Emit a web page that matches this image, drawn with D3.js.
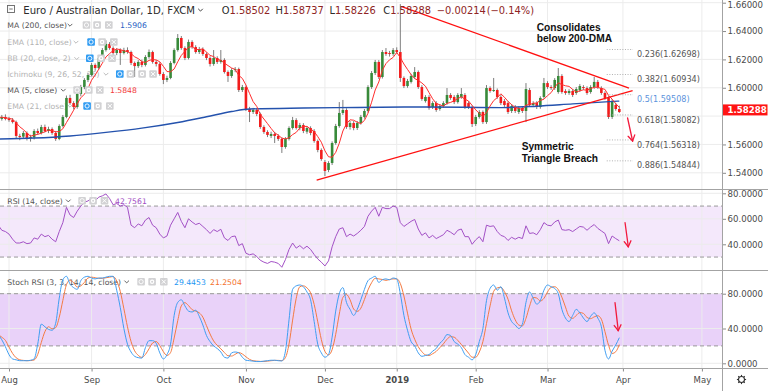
<!DOCTYPE html>
<html><head><meta charset="utf-8">
<script src="https://cdn.jsdelivr.net/npm/d3@7"></script>
<style>body{margin:0;background:#fff;overflow:hidden}svg{display:block;font-family:"DejaVu Sans",sans-serif}</style>
</head><body><svg id="c" width="768" height="391"></svg>
<script>
// ---------- DATA ----------
const monthTicks = [3,26,46,69,91,111,133,153,174,196];
const monthLabels = ["Aug","Sep","Oct","Nov","Dec","2019","Feb","Mar","Apr","May"];
const priceTicks = [1.54,1.56,1.58,1.60,1.62,1.64,1.66];
const priceLabelTicks = [1.54,1.56,1.60,1.62,1.64,1.66];
const rsiTicks = [40,60,80];
const stochTicks = [0,40,80];
// daily bars [open, high, low, close]
const ohlc = [
[1.5787,1.5805,1.5772,1.5790],[1.5780,1.5808,1.5768,1.5794],[1.5794,1.5812,1.5770,1.5780],[1.5780,1.5795,1.5760,1.5772],
[1.5772,1.5786,1.5748,1.5758],[1.5758,1.5768,1.5645,1.5660],[1.5660,1.5675,1.5630,1.5653],[1.5655,1.5695,1.5640,1.5681],
[1.5681,1.5692,1.5628,1.5646],[1.5646,1.5668,1.5620,1.5653],[1.5650,1.5708,1.5635,1.5695],[1.5695,1.5712,1.5668,1.5681],
[1.5681,1.5738,1.5670,1.5723],[1.5723,1.5740,1.5685,1.5695],[1.5695,1.5725,1.5680,1.5709],[1.5709,1.5720,1.5668,1.5681],
[1.5681,1.5695,1.5625,1.5639],[1.5639,1.5742,1.5630,1.5730],[1.5730,1.5808,1.5720,1.5794],[1.5794,1.5945,1.5785,1.5928],
[1.5928,1.5950,1.5880,1.5892],[1.5892,1.5905,1.5848,1.5864],[1.5864,1.5968,1.5852,1.5956],[1.5956,1.6020,1.5940,1.6005],
[1.6005,1.6068,1.5990,1.6055],[1.6055,1.6105,1.6040,1.6090],[1.6090,1.6175,1.6080,1.6161],[1.6161,1.6172,1.6120,1.6139],
[1.6139,1.6222,1.6128,1.6210],[1.6210,1.6280,1.6198,1.6266],[1.6266,1.6335,1.6255,1.6309],[1.6309,1.6322,1.6268,1.6280],
[1.6280,1.6292,1.6232,1.6245],[1.6245,1.6280,1.6230,1.6266],[1.6266,1.6278,1.6161,1.6245],[1.6245,1.6282,1.6235,1.6266],
[1.6266,1.6285,1.6240,1.6252],[1.6252,1.6262,1.6160,1.6175],[1.6175,1.6185,1.6076,1.6153],[1.6153,1.6195,1.6140,1.6182],
[1.6182,1.6198,1.6145,1.6161],[1.6161,1.6230,1.6150,1.6217],[1.6217,1.6270,1.6205,1.6252],[1.6252,1.6262,1.6170,1.6182],
[1.6182,1.6195,1.6150,1.6168],[1.6168,1.6180,1.6085,1.6097],[1.6097,1.6110,1.6026,1.6055],[1.6055,1.6085,1.6040,1.6069],
[1.6069,1.6188,1.6060,1.6175],[1.6175,1.6278,1.6165,1.6266],[1.6266,1.6379,1.6255,1.6351],[1.6351,1.6365,1.6268,1.6280],
[1.6280,1.6292,1.6195,1.6210],[1.6210,1.6340,1.6200,1.6323],[1.6323,1.6335,1.6275,1.6287],[1.6287,1.6300,1.6240,1.6252],
[1.6252,1.6288,1.6238,1.6273],[1.6273,1.6285,1.6225,1.6238],[1.6238,1.6250,1.6195,1.6210],[1.6210,1.6222,1.6150,1.6168],
[1.6168,1.6266,1.6155,1.6210],[1.6210,1.6222,1.6168,1.6182],[1.6182,1.6266,1.6170,1.6196],[1.6196,1.6208,1.6100,1.6111],
[1.6111,1.6122,1.6041,1.6083],[1.6083,1.6138,1.6070,1.6125],[1.6125,1.6146,1.6110,1.6132],[1.6132,1.6142,1.5970,1.5984],
[1.5984,1.6020,1.5970,1.6005],[1.6005,1.6015,1.5836,1.5850],[1.5850,1.5865,1.5758,1.5829],[1.5829,1.5858,1.5815,1.5843],
[1.5843,1.5855,1.5800,1.5815],[1.5815,1.5825,1.5710,1.5723],[1.5723,1.5735,1.5675,1.5688],[1.5688,1.5700,1.5652,1.5667],
[1.5660,1.5690,1.5645,1.5674],[1.5674,1.5688,1.5610,1.5660],[1.5660,1.5672,1.5625,1.5639],[1.5639,1.5650,1.5540,1.5582],
[1.5582,1.5652,1.5570,1.5639],[1.5639,1.5728,1.5628,1.5716],[1.5716,1.5794,1.5705,1.5772],[1.5772,1.5785,1.5705,1.5716],
[1.5716,1.5752,1.5700,1.5737],[1.5737,1.5750,1.5680,1.5695],[1.5690,1.5730,1.5675,1.5716],[1.5716,1.5728,1.5665,1.5681],
[1.5695,1.5708,1.5612,1.5624],[1.5624,1.5635,1.5545,1.5561],[1.5561,1.5572,1.5485,1.5497],[1.5476,1.5490,1.5377,1.5413],
[1.5420,1.5482,1.5405,1.5469],[1.5469,1.5622,1.5455,1.5610],[1.5610,1.5745,1.5598,1.5730],[1.5730,1.5899,1.5718,1.5822],
[1.5822,1.5914,1.5808,1.5843],[1.5843,1.5855,1.5710,1.5723],[1.5723,1.5765,1.5705,1.5751],[1.5751,1.5765,1.5700,1.5716],
[1.5716,1.5765,1.5702,1.5751],[1.5751,1.5808,1.5740,1.5794],[1.5794,1.5850,1.5782,1.5836],[1.5836,1.6018,1.5825,1.6005],
[1.6005,1.6118,1.5992,1.6104],[1.6104,1.6196,1.6090,1.6182],[1.6182,1.6195,1.6062,1.6076],[1.6076,1.6266,1.6065,1.6252],
[1.6252,1.6280,1.6225,1.6238],[1.6245,1.6260,1.6220,1.6238],[1.6238,1.6280,1.6225,1.6266],[1.6266,1.6285,1.6240,1.6252],
[1.6252,1.6590,1.6041,1.6069],[1.6069,1.6080,1.5998,1.6012],[1.6012,1.6062,1.6000,1.6048],[1.6041,1.6098,1.6030,1.6083],
[1.6076,1.6146,1.6065,1.6111],[1.6111,1.6122,1.5992,1.6005],[1.6005,1.6018,1.5908,1.5921],[1.5906,1.5948,1.5895,1.5935],
[1.5935,1.5948,1.5845,1.5857],[1.5864,1.5905,1.5850,1.5892],[1.5892,1.5905,1.5830,1.5843],[1.5850,1.5885,1.5838,1.5871],
[1.5871,1.5905,1.5858,1.5892],[1.5892,1.5998,1.5880,1.5949],[1.5949,1.5962,1.5915,1.5928],[1.5935,1.5948,1.5885,1.5899],
[1.5899,1.5962,1.5888,1.5949],[1.5935,1.5998,1.5922,1.5956],[1.5949,1.5962,1.5850,1.5864],[1.5892,1.5905,1.5850,1.5864],
[1.5864,1.5875,1.5723,1.5744],[1.5744,1.5808,1.5730,1.5794],[1.5794,1.5842,1.5782,1.5829],[1.5829,1.5840,1.5745,1.5758],
[1.5758,1.6019,1.5745,1.5998],[1.5998,1.6010,1.5965,1.5977],[1.5977,1.6069,1.5970,1.5984],[1.5984,1.5995,1.5922,1.5935],
[1.5935,1.5948,1.5878,1.5892],[1.5906,1.5920,1.5865,1.5878],[1.5892,1.5905,1.5815,1.5829],[1.5836,1.5885,1.5822,1.5871],
[1.5864,1.5878,1.5822,1.5836],[1.5829,1.5870,1.5815,1.5857],[1.5857,1.5870,1.5822,1.5836],[1.5836,1.6033,1.5758,1.5991],
[1.5984,1.5998,1.5865,1.5878],[1.5878,1.5905,1.5865,1.5892],[1.5892,1.5905,1.5850,1.5864],[1.5864,1.5940,1.5852,1.5928],
[1.5935,1.6069,1.5922,1.6033],[1.6033,1.6046,1.5992,1.6005],[1.6005,1.6018,1.5985,1.5998],[1.5998,1.6068,1.5985,1.6055],
[1.5970,1.6139,1.5958,1.6083],[1.6083,1.6096,1.5958,1.5970],[1.5977,1.5990,1.5950,1.5963],[1.5963,1.5990,1.5950,1.5977],
[1.5977,1.5990,1.5935,1.5949],[1.5963,1.6005,1.5950,1.5991],[1.5984,1.6026,1.5970,1.6012],[1.6005,1.6018,1.5985,1.5998],
[1.5998,1.6010,1.5950,1.5963],[1.5970,1.6018,1.5958,1.6005],[1.6005,1.6076,1.5992,1.6041],[1.6041,1.6055,1.5992,1.6005],
[1.5998,1.6010,1.5950,1.5963],[1.5963,1.5975,1.5915,1.5928],[1.5928,1.5940,1.5780,1.5794],[1.5794,1.5920,1.5780,1.5906],
[1.5878,1.5892,1.5838,1.5850],[1.58502,1.58737,1.58226,1.58288]
];
// MA(200): [bar index, value]
const ma200 = [[0,1.5638],[10,1.5645],[20,1.5660],[30,1.5685],[40,1.5715],[50,1.5755],[58,1.5795],[65,1.5832],[70,1.5850],
[85,1.5857],[100,1.5861],[115,1.5864],[130,1.5862],[140,1.5860],[150,1.5870],[160,1.5886],[173,1.5906]];
const rsi = [55,51,50,48,44,41,41,42,40.5,41,45,44,48,46,47,44,42,50,57,69,63,61,66,70,73,74,76,74,77,78,
79.5,76,71,72,70,71,69,55,53,56,54.5,59,61,55,53,48,45,46.5,55,60,65,58,53,60,57.5,55.5,56.5,54,51.5,48.5,
51.5,50,51.8,45,43,46,46.5,39,40.5,33,31.8,32.5,30.5,27.5,26,25,26.5,26,25,22,28,36,41,37,39,36.5,38.5,36,
32,28.5,26,23,27,38,46,52,53,46,48,46.5,48.5,51,54,62,66,69,62,69,68,68,70,69,57,54,56,58,59.5,52,47,49,45,
47,44.5,46,47.5,51,49.5,47.5,51,52,46,46,40,43.5,46,42,55,54,54.5,50,47,46,43,45.5,44,45.5,44.5,54.5,48.5,
49,47.5,51.5,57,55,54.5,57.5,59,51.5,51,51.5,50,52,54,53.5,51,53.5,55.5,52.5,50.5,48.5,40.5,46.5,44.5,42.7561];
const stochK = [33,27,19,10,5,4,3,3,3,3.5,5,22,45,42,39,38,46,75,96,100,91,87,85,95,99,100,98,97,98,98,
99,100,100,84,64,40,22,13,8,6.5,6,18,26,26,23,12,5,10,22,55,70,73,66,60,59,61,54,44,32,25,
20,17,13,7,6,12,13,12,7,3.5,3,2.5,2,2,2.5,3,3.5,3.5,3,2.7,14,50,85,89,90,88,82,73,48,22,
12,7,10,30,60,80,87,70,62,55,62,73,85,95,98,100,93,96,97,96,98,97,80,55,38,25,20,12,8,9,
10,14,17,23,27,33,32,25,22,18,10,7,4,10,25,40,72,86,90,84,88,75,58,48,44,40,45,70,82,75,
68,72,84,90,88,86,80,62,52,48,55,62,58,52,48,54,58,52,42,15,5,14,21,29.4453];
const stochDLast = "21.2504";
const ma200Last = "1.5906", ma5Last = "1.5848";
const fibLevels = [["0.236",1.62698],["0.382",1.60934],["0.5",1.59508],["0.618",1.58082],["0.764",1.56318],["0.886",1.54844]];
const triangle = [[[112.4,1.6572],[175.7,1.5998]],[[88.7,1.5349],[176.7,1.5979]]];
const header = {o:"1.58502",h:"1.58737",l:"1.58226",c:"1.58288",chg:"\u22120.00214",pct:"(\u22120.14%)"};

// ---------- DERIVED INDICATORS ----------
const closes = ohlc.map(d=>d[3]);
const ma5 = closes.map((c,i)=>d3.mean(closes.slice(Math.max(0,i-4),i+1)));
const stochD = stochK.map((k,i)=>d3.mean(stochK.slice(Math.max(0,i-2),i+1)));

// ---------- SCALES ----------
const svg = d3.select("#c");
const PW = 722, W = 768;
const x = d3.scaleLinear().domain([0.493, 201.6]).range([0, PW]);
const y = d3.scaleLinear().domain([1.54, 1.66]).range([172.8, 2.7]);
const yR = d3.scaleLinear().domain([40, 80]).range([244.3, 193.3]);
const yS = d3.scaleLinear().domain([0, 80]).range([363.3, 293.7]);

const defs = svg.append("defs");
function clip(id,y0,h){defs.append("clipPath").attr("id",id).append("rect").attr("x",0).attr("y",y0).attr("width",PW).attr("height",h);}
clip("cm",0,189); clip("cr",190,80); clip("cs",271,97);

const GRID="#ececec", SEP="#a3a3a3", AX="#4a4a4a";

// bands
svg.append("rect").attr("x",0).attr("width",PW).attr("y",yR(70)).attr("height",yR(30)-yR(70)).attr("fill","#f4e8fb");
svg.append("rect").attr("x",0).attr("width",PW).attr("y",yS(80)).attr("height",yS(20)-yS(80)).attr("fill","#e9d2f9");

// grid
const grid = svg.append("g").attr("stroke",GRID).attr("stroke-width",1);
monthTicks.forEach(t=>{grid.append("line").attr("x1",x(t)).attr("x2",x(t)).attr("y1",0).attr("y2",368);});
priceTicks.forEach(p=>grid.append("line").attr("x1",0).attr("x2",PW).attr("y1",y(p)).attr("y2",y(p)));
rsiTicks.forEach(v=>grid.append("line").attr("x1",0).attr("x2",PW).attr("y1",yR(v)).attr("y2",yR(v)));
stochTicks.forEach(v=>grid.append("line").attr("x1",0).attr("x2",PW).attr("y1",yS(v)).attr("y2",yS(v)));

// dashed band borders
const dash = svg.append("g").attr("stroke","#8f8f8f").attr("stroke-dasharray","4,3").attr("stroke-width",0.9);
[70,30].forEach(v=>dash.append("line").attr("x1",0).attr("x2",PW).attr("y1",yR(v)).attr("y2",yR(v)));
[80,20].forEach(v=>dash.append("line").attr("x1",0).attr("x2",PW).attr("y1",yS(v)).attr("y2",yS(v)));

// ---------- LEGENDS (text under marks) ----------
const legendRows = [
 {t:"MA (200, close)",y:25,chev:70,icons:[82.7,93.3,105],hidden:false},
 {t:"EMA (110, close)",y:42,chev:76,icons:[87.3,98.3,110],hidden:true},
 {t:"BB (20, close, 2)",y:58.3,chev:76.7,icons:[86,97.3,108.3],hidden:true},
 {t:"Ichimoku (9, 26, 52, 26)",y:74,chev:106,icons:[116,126.7,138.3,149.3],hidden:true},
 {t:"MA (5, close)",y:90,chev:63.3,icons:[73.3,85,96],hidden:false},
 {t:"EMA (21, close)",y:106,chev:70,icons:[83.3,94,106],hidden:true},
 {t:"RSI (14, close)",y:200.7,chev:68.3,icons:[78.3,89.3,100.7],hidden:false},
 {t:"Stoch RSI (3, 3, 14, 14, close)",y:281.7,chev:126.7,icons:[137.3,148.3,160],hidden:false}
];
const legT = svg.append("g").attr("font-size","7.7px");
legendRows.forEach(r=>{
  const col = r.hidden ? "#b3b3b3" : "#555";
  legT.append("text").attr("x",7.3).attr("y",r.y+2.8).attr("fill",col).text(r.t);
  legT.append("polyline").attr("points",`${r.chev-2.3},${r.y-1.1} ${r.chev},${r.y+1.2} ${r.chev+2.3},${r.y-1.1}`)
    .attr("fill","none").attr("stroke",col).attr("stroke-width",0.9);
});

// ---------- PRICE PANE ----------
const gM = svg.append("g").attr("clip-path","url(#cm)");
gM.selectAll("line.wick").data(ohlc).join("line").attr("class","wick")
  .attr("x1",(d,i)=>x(i)).attr("x2",(d,i)=>x(i)).attr("y1",d=>y(d[1])).attr("y2",d=>y(d[2]))
  .attr("stroke","#6e6e6e").attr("stroke-width",0.9);
gM.selectAll("rect.body").data(ohlc).join("rect").attr("class","body")
  .attr("x",(d,i)=>x(i)-1.3).attr("width",2.6)
  .attr("y",d=>y(Math.max(d[0],d[3])))
  .attr("height",d=>Math.max(1,Math.abs(y(d[0])-y(d[3]))))
  .attr("fill",d=>d[3]>=d[0]?"#388a3a":"#f21c1c");
gM.append("path").datum(ma200).attr("fill","none").attr("stroke","#2452ad").attr("stroke-width",1.4)
  .attr("d",d3.line().curve(d3.curveMonotoneX).x(d=>x(d[0])).y(d=>y(d[1])));
gM.append("path").datum(ma5).attr("fill","none").attr("stroke","#ff2d2d").attr("stroke-width",1)
  .attr("d",d3.line().x((d,i)=>x(i)).y(d=>y(d)));
triangle.forEach(seg=>gM.append("line").attr("x1",x(seg[0][0])).attr("y1",y(seg[0][1])).attr("x2",x(seg[1][0])).attr("y2",y(seg[1][1]))
  .attr("stroke","#ff1010").attr("stroke-width",1.3));

// fib levels
const fibG = svg.append("g");
fibLevels.forEach(([lv,p])=>{
  fibG.append("line").attr("x1",x(169.5)).attr("x2",x(176.8)).attr("y1",y(p)).attr("y2",y(p))
    .attr("stroke","#a8a8a8").attr("stroke-dasharray","1,1.6").attr("stroke-width",0.9);
  fibG.append("text").attr("x",x(176.8)+4).attr("y",y(p)+7.6).attr("font-size","8.1px")
    .attr("fill",lv==="0.5"?"#5b93dc":"#555").text(`${lv}(${p.toFixed(5)})`);
});

// arrows
function arrow(x1,y1,x2,y2){
  const g = svg.append("g").attr("stroke","#f21a3c").attr("stroke-width",1.3).attr("fill","none").attr("stroke-linecap","round");
  g.append("line").attr("x1",x1).attr("y1",y1).attr("x2",x2).attr("y2",y2);
  const a = Math.atan2(y2-y1,x2-x1), L=6.5;
  [0.55,-0.55].forEach(s=>g.append("line").attr("x1",x2).attr("y1",y2).attr("x2",x2-L*Math.cos(a+s)).attr("y2",y2-L*Math.sin(a+s)));
}
arrow(x(175.3),y(1.57866),x(176.7),y(1.56243));
arrow(x(174.6),yR(56.9),x(175.5),yR(38.1));
arrow(x(171.8),yS(69.7),x(172.7),yS(37.5));

// annotations
const ann = svg.append("g").attr("font-family","'Liberation Sans',Arial,sans-serif").attr("font-weight","bold").attr("font-size","10.2px").attr("fill","#111");
ann.append("text").attr("x",x(150)).attr("y",y(1.64025)).text("Consolidates");
ann.append("text").attr("x",x(150)).attr("y",y(1.64025)+11.2).text("below 200-DMA");
ann.append("text").attr("x",x(145.8)).attr("y",y(1.5556)-0.3).text("Symmetric");
ann.append("text").attr("x",x(145.8)).attr("y",y(1.5556)+10.9).text("Triangle Breach");

// ---------- RSI / STOCH ----------
svg.append("g").attr("clip-path","url(#cr)").append("path").datum(rsi).attr("fill","none").attr("stroke","#a351c6").attr("stroke-width",1)
  .attr("d",d3.line().x((d,i)=>x(i)).y(d=>yR(d)));
const gS = svg.append("g").attr("clip-path","url(#cs)");
gS.append("path").datum(stochD).attr("fill","none").attr("stroke","#f47a42").attr("stroke-width",1)
  .attr("d",d3.line().curve(d3.curveMonotoneX).x((d,i)=>x(i)).y(d=>yS(d)));
gS.append("path").datum(stochK).attr("fill","none").attr("stroke","#3f9ef2").attr("stroke-width",1)
  .attr("d",d3.line().curve(d3.curveMonotoneX).x((d,i)=>x(i)).y(d=>yS(d)));

// ---------- LEGEND ICONS & VALUES ----------
const icoG = svg.append("g");
legendRows.forEach(r=>{
  r.icons.forEach((ix,k)=>{
    const blue = r.hidden && k===0;
    icoG.append("rect").attr("x",ix).attr("y",r.y-3.8).attr("width",7.6).attr("height",7.6).attr("rx",1)
      .attr("fill",blue?"#2f9bf2":"#d2d2d4");
    const cx=ix+3.8, cy=r.y;
    if(k===0){icoG.append("circle").attr("cx",cx).attr("cy",cy).attr("r",2.1).attr("fill","none").attr("stroke","#fff").attr("stroke-width",0.9);}
    else if(k===r.icons.length-1){icoG.append("path").attr("d",`M${cx-2},${cy-2}L${cx+2},${cy+2}M${cx+2},${cy-2}L${cx-2},${cy+2}`).attr("stroke","#fff").attr("stroke-width",1);}
    else {icoG.append("circle").attr("cx",cx).attr("cy",cy).attr("r",2.2).attr("fill","#fff");icoG.append("circle").attr("cx",cx).attr("cy",cy).attr("r",1).attr("fill",blue?"#2f9bf2":"#d2d2d4");}
  });
});
const valG = svg.append("g").attr("font-size","7.7px");
valG.append("text").attr("x",120).attr("y",25+2.8).attr("fill","#2a5fc4").text(ma200Last);
valG.append("text").attr("x",110).attr("y",90+2.8).attr("fill","#f23b3b").text(ma5Last);
valG.append("text").attr("x",115).attr("y",200.7+2.8).attr("fill","#a24fc4").text(d3.format(".4f")(rsi[rsi.length-1]));
valG.append("text").attr("x",174).attr("y",281.7+2.8).attr("fill","#2196f3").text(d3.format(".4f")(stochK[stochK.length-1]));
valG.append("text").attr("x",210).attr("y",281.7+2.8).attr("fill","#f4702c").text(stochDLast);

// ---------- HEADER ----------
svg.append("rect").attr("x",7.5).attr("y",5.5).attr("width",7).attr("height",7).attr("fill","none").attr("stroke","#666").attr("stroke-width",0.9);
svg.append("line").attr("x1",9.3).attr("x2",12.7).attr("y1",9).attr("y2",9).attr("stroke","#666").attr("stroke-width",0.9);
svg.append("text").attr("x",23.3).attr("y",13.6).attr("font-size","10.1px").attr("fill","#2b2b2b").text("Euro / Australian Dollar, 1D, FXCM");
svg.append("polyline").attr("points","198.2,8.8 200.5,11.1 202.8,8.8").attr("fill","none").attr("stroke","#2b2b2b").attr("stroke-width",0.9);
const hv = svg.append("g").attr("font-size","9.9px");
[["O",header.o,221.7],["H",header.h,275.6],["L",header.l,329.5],["C",header.c,383.3]].forEach(([k,v,px])=>{
  const t = hv.append("text").attr("x",px).attr("y",13.6);
  t.append("tspan").attr("fill","#2b2b2b").text(k);
  t.append("tspan").attr("fill","#8e2424").text(v);
});
hv.append("text").attr("x",436.7).attr("y",13.6).attr("fill","#8e2424").text(header.chg);
hv.append("text").attr("x",486.7).attr("y",13.6).attr("fill","#8e2424").text(header.pct);

// ---------- AXES ----------
function styleAxis(g){g.select(".domain").remove();g.selectAll(".tick line").attr("stroke","#8a8a8a");g.selectAll("text").attr("fill",AX).attr("font-family","'DejaVu Sans',sans-serif").attr("font-size","8.6px");}
const pa = svg.append("g").attr("transform",`translate(${PW},0)`).call(d3.axisRight(y).tickValues(priceLabelTicks).tickSize(4).tickPadding(1.5).tickFormat(d3.format(".5f"))).call(styleAxis);
pa.selectAll(".tick text").filter(d=>d===1.66).attr("dy","0.55em");
svg.append("g").attr("transform",`translate(${PW},0)`).call(d3.axisRight(yR).tickValues(rsiTicks).tickSize(4).tickPadding(1.5).tickFormat(d3.format(".4f"))).call(styleAxis);
svg.append("g").attr("transform",`translate(${PW},0)`).call(d3.axisRight(yS).tickValues(stochTicks).tickSize(4).tickPadding(1.5).tickFormat(d3.format(".4f"))).call(styleAxis);
const xa = svg.append("g").attr("transform","translate(0,368.5)")
  .call(d3.axisBottom(x).tickValues(monthTicks).tickSize(3).tickPadding(5).tickFormat((d,i)=>monthLabels[i])).call(styleAxis);
xa.selectAll("text").attr("font-size","8.5px").attr("font-weight",(d,i)=>monthLabels[i]==="2019"?"bold":"normal");

// current price tag
const last = closes[closes.length-1];
svg.append("rect").attr("x",PW+0.5).attr("y",y(last)-7.6).attr("width",45).attr("height",11).attr("fill","#ff1414");
svg.append("text").attr("x",727.5).attr("y",y(last)+1.1).attr("font-size","8.6px").attr("font-weight","bold").attr("fill","#fff").text(d3.format(".5f")(last));

// separators
const sepG = svg.append("g").attr("stroke",SEP).attr("stroke-width",1);
[189.5,270.5,368.5].forEach(v=>sepG.append("line").attr("x1",0).attr("x2",W).attr("y1",v).attr("y2",v));
sepG.append("line").attr("x1",PW+0.5).attr("x2",PW+0.5).attr("y1",0).attr("y2",391);

// gear icon
const gear = svg.append("g").attr("transform","translate(741.5,379.5)").attr("stroke","#333").attr("fill","none").attr("stroke-width",1.1);
gear.append("circle").attr("r",3);
d3.range(8).forEach(k=>{const a=k*Math.PI/4;gear.append("line").attr("x1",3*Math.cos(a)).attr("y1",3*Math.sin(a)).attr("x2",4.6*Math.cos(a)).attr("y2",4.6*Math.sin(a));});
</script></body></html>
